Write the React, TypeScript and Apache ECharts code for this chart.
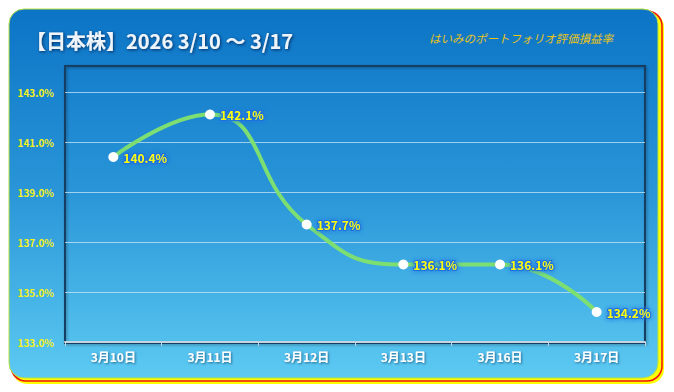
import React, { useEffect, useRef } from "react";
import * as echarts from "echarts";

const categories = ["3月10日", "3月11日", "3月12日", "3月13日", "3月16日", "3月17日"];
const values = [140.4, 142.1, 137.7, 136.1, 136.1, 134.2];
const yMin = 133;
const yMax = 143;
const yInterval = 2;
const titleText = "【日本株】2026 3/10 〜 3/17";
const subTitleText = "はいみのポートフォリオ評価損益率";

const FONT = "'Noto Sans CJK JP', 'Noto Sans', sans-serif";

export default function App() {
  const ref = useRef<HTMLDivElement>(null);
  useEffect(() => {
    if (!ref.current) return;
    const chart = echarts.init(ref.current, null, { renderer: "svg" });
    chart.setOption({
      animation: false,
      graphic: [
        {
          type: "rect",
          z: -10,
          silent: true,
          shape: { x: 12, y: 12, width: 652, height: 372, r: 15 },
          style: { fill: "#ffff00" },
        },
        {
          type: "rect",
          z: -9,
          silent: true,
          shape: { x: 11, y: 11, width: 651, height: 370, r: 15 },
          style: { fill: "none", stroke: "#ee1111", lineWidth: 1.5 },
        },
        {
          type: "rect",
          z: -8,
          silent: true,
          shape: { x: 9, y: 9, width: 649, height: 369, r: 15 },
          style: {
            fill: new echarts.graphic.LinearGradient(0, 0, 0, 1, [
              { offset: 0, color: "#0b74c6" },
              { offset: 0.5, color: "#2a96d8" },
              { offset: 1, color: "#5ccaf2" },
            ]),
            stroke: "#b8e040",
            lineWidth: 1,
          },
        },
        {
          type: "rect",
          z: -7,
          silent: true,
          shape: { x: 65, y: 66, width: 580, height: 277 },
          style: {
            fill: "none",
            stroke: "#123c62",
            lineWidth: 2,
            shadowColor: "rgba(0,0,0,0.35)",
            shadowBlur: 3,
            shadowOffsetX: 1,
            shadowOffsetY: 1,
          },
        },
        {
          type: "text",
          silent: true,
          x: 26,
          y: 40,
          style: {
            text: titleText,
            fill: "#eef4fa",
            font: `bold 20px ${FONT}`,
            textVerticalAlign: "middle",
            textShadowColor: "rgba(0,30,70,0.8)",
            textShadowBlur: 3,
            textShadowOffsetX: 1,
            textShadowOffsetY: 1,
          },
        },
        {
          type: "text",
          silent: true,
          x: 429,
          y: 38,
          style: {
            text: subTitleText,
            fill: "#e8c418",
            font: `italic 11.5px ${FONT}`,
            textVerticalAlign: "middle",
          },
        },
      ],
      grid: { left: 65, right: 29, top: 92, bottom: 50, containLabel: false },
      xAxis: {
        type: "category",
        data: categories,
        boundaryGap: true,
        axisLine: { show: true, lineStyle: { color: "#c4d4e0", width: 2 } },
        axisTick: { show: true, length: 4, lineStyle: { color: "#c4d4e0", width: 1 } },
        axisLabel: {
          color: "#ffffff",
          fontFamily: FONT,
          fontWeight: "bold",
          fontSize: 12,
          margin: 8,
          textShadowColor: "rgba(0,40,80,0.6)",
          textShadowBlur: 2,
          textShadowOffsetX: 1,
          textShadowOffsetY: 1,
        },
      },
      yAxis: {
        type: "value",
        min: yMin,
        max: yMax,
        interval: yInterval,
        axisLine: { show: false },
        axisTick: { show: false },
        axisLabel: {
          color: "#f4f020",
          fontFamily: FONT,
          fontWeight: "bold",
          fontSize: 10,
          margin: 11,
          formatter: (v: number) => `${v.toFixed(1)}%`,
        },
        splitLine: { show: true, lineStyle: { color: "rgba(200,230,250,0.75)", width: 1 } },
      },
      series: [
        {
          type: "line",
          data: values,
          smooth: 0.5,
          symbol: "circle",
          symbolSize: 10,
          itemStyle: { color: "#ffffff", borderWidth: 0 },
          lineStyle: { color: "#7ddf72", width: 4 },
          label: {
            show: true,
            position: "right",
            distance: 5,
            formatter: (p: any) => `${p.value.toFixed(1)}%`,
            color: "#ffff10",
            fontFamily: FONT,
            fontWeight: "bold",
            fontSize: 12,
            textBorderColor: "#1e6fe0",
            textBorderWidth: 2,
            textShadowColor: "#1e6fe0",
            textShadowBlur: 5,
          },
        },
      ],
    });
    return () => chart.dispose();
  }, []);
  return <div ref={ref} style={{ width: 674, height: 392, margin: -8 }} />;
}
